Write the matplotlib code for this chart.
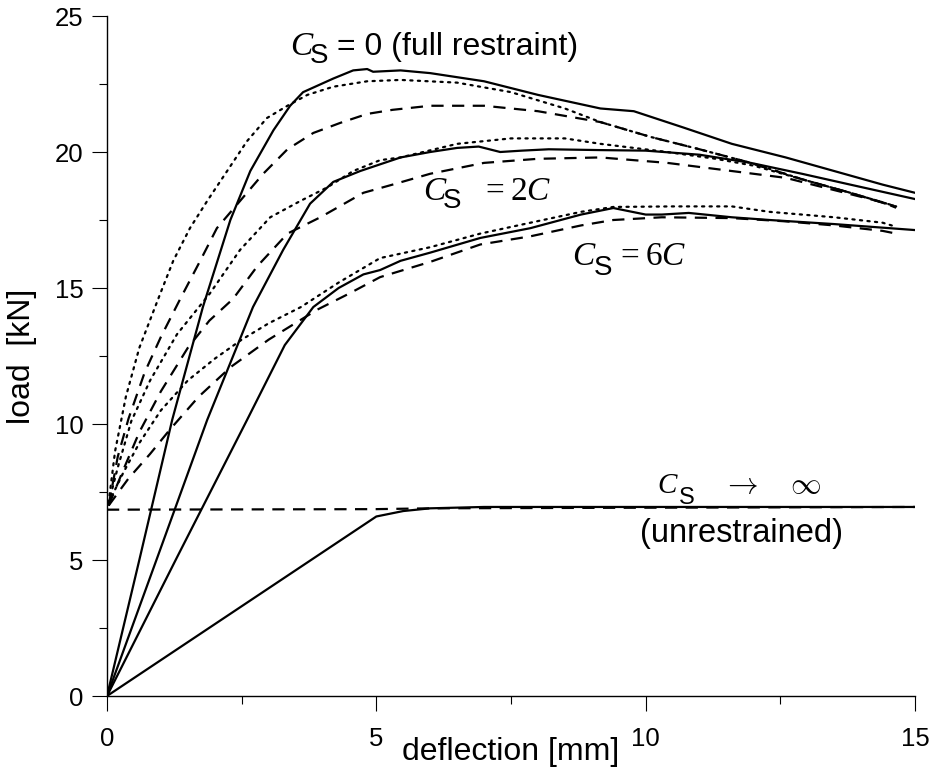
import matplotlib
matplotlib.use("Agg")
import matplotlib.pyplot as plt
from matplotlib.ticker import MultipleLocator

plt.rcParams['font.family'] = ['Liberation Sans', 'DejaVu Sans']

# full restraint, C_S = 0
c0_solid_x = [0, 0.6, 1.21, 1.78, 2.29, 2.66, 3.09, 3.40, 3.64, 4.2, 4.57, 4.83, 4.94, 5.45, 6.0, 7.0, 8.0,
              9.16, 9.78, 10.7, 11.6, 12.6, 13.5, 14.4, 15.0]
c0_solid_y = [0, 5.0, 10.15, 14.3, 17.5, 19.3, 20.8, 21.7, 22.2, 22.7, 23.0, 23.05, 22.95, 23.0, 22.9, 22.6, 22.1,
              21.6, 21.5, 20.9, 20.3, 19.8, 19.3, 18.8, 18.5]
c0_dot_x = [0.03, 0.15, 0.35, 0.6, 0.99, 1.23, 1.54, 1.86, 2.23, 2.6, 2.97, 3.35, 3.72, 4.2, 4.83, 5.45, 6.5, 7.5,
            8.5, 9.16, 10.1, 11.0, 11.95, 12.9, 13.8, 14.65]
c0_dot_y = [7.1, 9.0, 11.0, 12.8, 14.8, 16.0, 17.2, 18.2, 19.3, 20.4, 21.25, 21.7, 22.1, 22.4, 22.6, 22.65, 22.55,
            22.2, 21.6, 21.1, 20.55, 20.1, 19.6, 19.0, 18.5, 18.0]
c0_dash_x = [0.03, 0.2, 0.4, 0.7, 1.0, 1.36, 1.73, 2.04, 2.47, 2.9, 3.35, 3.83, 4.33, 4.83, 5.3, 6.0, 7.0, 8.0,
             9.16, 10.1, 11.0, 11.95, 12.9, 13.8, 14.65]
c0_dash_y = [7.0, 8.8, 10.2, 11.9, 13.2, 14.6, 16.0, 17.2, 18.2, 19.2, 20.1, 20.7, 21.07, 21.4, 21.55, 21.7, 21.7,
             21.5, 21.1, 20.55, 20.1, 19.6, 19.0, 18.5, 17.98]

# C_S = 2C
c2_solid_x = [0, 1.0, 1.86, 2.71, 3.27, 3.77, 4.2, 4.7, 5.45, 6.0, 6.5, 6.9, 7.3, 7.7, 8.2, 9.16, 10.0, 11.0,
              11.95, 12.9, 13.8, 15.0]
c2_solid_y = [0, 5.45, 10.15, 14.3, 16.4, 18.1, 18.9, 19.3, 19.8, 20.0, 20.15, 20.2, 20.0, 20.05, 20.1, 20.07,
              20.05, 19.9, 19.6, 19.2, 18.8, 18.27]
c2_dot_x = [0.03, 0.2, 0.45, 0.8, 1.3, 1.91, 2.47, 3.03, 3.59, 4.09, 4.57, 5.07, 5.45, 6.5, 7.5, 8.5, 9.16, 10.4,
            11.3, 12.0, 12.9, 13.8, 14.65]
c2_dot_y = [7.1, 8.4, 10.1, 11.6, 13.3, 14.8, 16.4, 17.6, 18.2, 18.7, 19.3, 19.7, 19.8, 20.3, 20.5, 20.5, 20.3,
            20.0, 19.75, 19.5, 19.0, 18.5, 18.0]
c2_dash_x = [0.03, 0.3, 0.6, 1.0, 1.5, 1.9, 2.34, 2.79, 3.35, 3.96, 4.76, 5.3, 6.0, 7.0, 8.0, 9.16, 10.4, 11.6,
             12.6, 13.5, 14.4, 14.65]
c2_dash_y = [7.0, 8.3, 9.7, 11.2, 12.8, 13.8, 14.6, 15.8, 17.0, 17.6, 18.5, 18.8, 19.2, 19.6, 19.75, 19.8, 19.6,
             19.3, 19.05, 18.6, 18.15, 17.95]

# C_S = 6C
c6_solid_x = [0, 1.3, 2.6, 3.3, 3.83, 4.3, 4.76, 5.07, 5.45, 6.0, 6.93, 7.86, 8.8, 9.4, 10.0, 10.3, 10.8, 11.6,
              12.3, 13.5, 15.0]
c6_solid_y = [0, 5.1, 10.15, 12.9, 14.3, 15.0, 15.5, 15.66, 16.0, 16.3, 16.84, 17.2, 17.7, 17.94, 17.7, 17.7,
              17.76, 17.6, 17.5, 17.35, 17.13]
c6_dot_x = [0.03, 0.3, 0.6, 1.0, 1.5, 2.0, 2.5, 3.0, 3.6, 4.3, 5.07, 6.0, 6.93, 7.86, 8.8, 9.4, 10.5, 11.6, 12.3,
            13.5, 14.4, 14.65]
c6_dot_y = [7.1, 8.2, 9.3, 10.5, 11.6, 12.4, 13.1, 13.7, 14.3, 15.2, 16.1, 16.5, 17.0, 17.4, 17.8, 17.98, 18.0,
            18.0, 17.8, 17.6, 17.4, 17.25]
c6_dash_x = [0.03, 0.4, 0.8, 1.17, 1.7, 2.3, 3.0, 3.9, 4.5, 5.07, 6.0, 6.93, 7.86, 8.8, 9.4, 10.3, 11.6, 12.6,
             13.5, 14.4, 14.65]
c6_dash_y = [7.0, 8.0, 8.9, 9.8, 11.0, 12.1, 13.1, 14.2, 14.8, 15.4, 15.96, 16.6, 16.9, 17.3, 17.5, 17.6, 17.57,
             17.45, 17.3, 17.1, 17.0]

# unrestrained, C_S -> infinity
inf_solid_x = [0, 2.5, 5.0, 5.5, 6.0, 7.0, 15.0]
inf_solid_y = [0, 3.3, 6.6, 6.8, 6.9, 6.95, 6.95]
inf_dash_x = [0, 5.0, 6.0, 15.0]
inf_dash_y = [6.85, 6.87, 6.9, 6.95]

fig = plt.figure(figsize=(9.31, 7.68), dpi=100)
ax = fig.add_axes((107 / 931, 72 / 768, 808 / 931, 680 / 768))

lw = 1.6
solid = dict(color='black', lw=lw, ls='-')
dotted = dict(color='black', lw=lw, ls=(0, (1, 2.4)), dash_capstyle='round')
dashed = dict(color='black', lw=lw, ls=(0, (5.5, 3.8)))

ax.plot(inf_dash_x, inf_dash_y, **dashed)
ax.plot(inf_solid_x, inf_solid_y, **solid)
for xs, ys, sty in [(c6_dash_x, c6_dash_y, dashed), (c6_dot_x, c6_dot_y, dotted), (c6_solid_x, c6_solid_y, solid),
                    (c2_dash_x, c2_dash_y, dashed), (c2_dot_x, c2_dot_y, dotted), (c2_solid_x, c2_solid_y, solid),
                    (c0_dash_x, c0_dash_y, dashed), (c0_dot_x, c0_dot_y, dotted), (c0_solid_x, c0_solid_y, solid)]:
    ax.plot(xs, ys, **sty)

ax.set_xlim(0, 15)
ax.set_ylim(0, 25)
ax.spines['right'].set_visible(False)
ax.spines['top'].set_visible(False)
ax.spines['left'].set_linewidth(1.0)
ax.spines['bottom'].set_linewidth(1.0)

ax.xaxis.set_major_locator(MultipleLocator(5))
ax.xaxis.set_minor_locator(MultipleLocator(2.5))
ax.yaxis.set_major_locator(MultipleLocator(5))
ax.yaxis.set_minor_locator(MultipleLocator(2.5))
ax.tick_params(axis='both', which='major', length=11, width=0.8, labelsize=18.5)
ax.tick_params(axis='both', which='minor', length=5.5, width=0.8)
ax.tick_params(axis='x', which='major', pad=11)
ax.tick_params(axis='y', which='major', pad=6)

ax.set_xlabel('deflection [mm]', fontsize=23)
ax.xaxis.set_label_coords(0.5, -0.060)
ax.set_ylabel('load  [kN]', fontsize=23, va='center')
ax.yaxis.set_label_coords(-0.105, 0.5)


def put(x, y, s, dx=0, dy=0, **kw):
    # dx, dy are pixel offsets from the anchor baseline
    ax.annotate(s, (x, y), xytext=(dx * 0.72, dy * 0.72), textcoords='offset points',
                ha='left', va='baseline', **kw)


serif_it = dict(family='Liberation Serif', style='italic')
serif = dict(family='Liberation Serif')

# C_S = 0 (full restraint)
put(3.40, 23.57, 'C', fontsize=24, **serif_it)
put(3.40, 23.57, 'S', dx=20, dy=-8, fontsize=20)
put(3.40, 23.57, '= 0 (full restraint)', dx=47, fontsize=23)

# C_S = 2C
put(5.87, 18.24, 'C', fontsize=24, **serif_it)
put(5.87, 18.24, 'S', dx=20, dy=-8, fontsize=20)
put(5.87, 18.24, '=', dx=62, fontsize=24, **serif)
put(5.87, 18.24, '2', dx=87, fontsize=24, **serif)
put(5.87, 18.24, 'C', dx=103, fontsize=24, **serif_it)

# C_S = 6C
put(8.64, 15.85, 'C', fontsize=24, **serif_it)
put(8.64, 15.85, 'S', dx=21, dy=-10, fontsize=20)
put(8.64, 15.85, '=', dx=48, fontsize=24, **serif)
put(8.64, 15.85, '6', dx=73, fontsize=24, **serif)
put(8.64, 15.85, 'C', dx=89, fontsize=24, **serif_it)

# C_S -> infinity (unrestrained)
put(10.22, 7.46, 'C', fontsize=21, **serif_it)
put(10.22, 7.46, 'S', dx=21, dy=-11, fontsize=17)
put(10.22, 7.46, r'$\rightarrow$', dx=64, fontsize=22, math_fontfamily='cm')
put(10.22, 7.46, r'$\infty$', dx=132, fontsize=22, math_fontfamily='cm')
put(9.9, 5.66, '(unrestrained)', fontsize=23.5)

fig.savefig('out.png', dpi=100)
